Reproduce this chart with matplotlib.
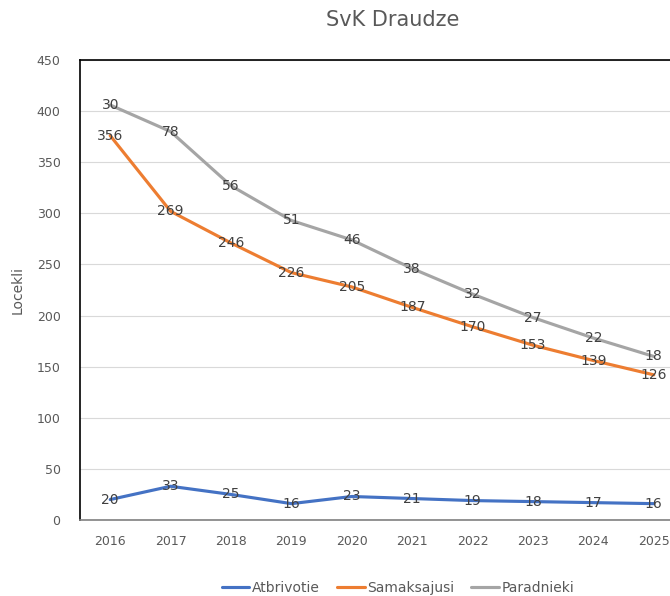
import matplotlib
matplotlib.use("Agg")
import matplotlib.pyplot as plt
import numpy as np

plt.rcParams['font.family'] = ['Liberation Sans Narrow', 'DejaVu Sans']

years = ["2016", "2017", "2018", "2019", "2020", "2021", "2022", "2023", "2024", "2025"]
atbrivotie = [20, 33, 25, 16, 23, 21, 19, 18, 17, 16]
samaksajusi = [356, 269, 246, 226, 205, 187, 170, 153, 139, 126]
paradnieki = [30, 78, 56, 51, 46, 38, 32, 27, 22, 18]

names = ["Atbrivotie", "Samaksajusi", "Paradnieki"]
colors = ["#4472C4", "#ED7D31", "#A5A5A5"]
txt = "#404040"

fig = plt.figure(figsize=(6.7, 5.96), dpi=100)
ax = fig.add_axes([80/670, 1-520/596, 604/670, 460/596])

x = np.arange(len(years))
series = [atbrivotie, samaksajusi, paradnieki]
cum = np.zeros(len(years))
for vals, name, col in zip(series, names, colors):
    cum = cum + np.array(vals)
    ax.plot(x, cum, color=col, lw=2.25, label=name, solid_capstyle='round', zorder=3)
    for xi, yi, v in zip(x, cum, vals):
        ax.text(xi, yi, str(v), ha='center', va='center', fontsize=10, color=txt, zorder=4)

ax.set_xlim(-0.5, len(years) - 0.5)
ax.set_ylim(0, 450)
ax.set_yticks(range(0, 451, 50))
ax.set_xticks(x)
ax.set_xticklabels(years)
ax.tick_params(axis='both', length=0, labelsize=9, colors="#595959")
ax.tick_params(axis='y', pad=14)
ax.tick_params(axis='x', pad=11)
ax.grid(axis='y', color="#D9D9D9", lw=0.8)
ax.set_axisbelow(True)
for s in ['left', 'top']:
    ax.spines[s].set_color("#000000")
    ax.spines[s].set_linewidth(1.2)
ax.spines['bottom'].set_color("#808080")
ax.spines['bottom'].set_linewidth(1.2)
ax.spines['right'].set_visible(False)

fig.text(18/670, 1-290/596, "Locekli", rotation=90, ha='center', va='center', fontsize=10, color="#595959")
fig.text(393/670, 1-20/596, "SvK Draudze", ha='center', va='center', fontsize=15, color="#595959")

leg = fig.legend(loc='center', bbox_to_anchor=(398/670, 1-588/596), ncol=3, frameon=False,
                 fontsize=10, handlelength=2.0, handletextpad=0.2, columnspacing=1.2)
for t in leg.get_texts():
    t.set_color("#595959")

fig.savefig("out.png", dpi=100)
